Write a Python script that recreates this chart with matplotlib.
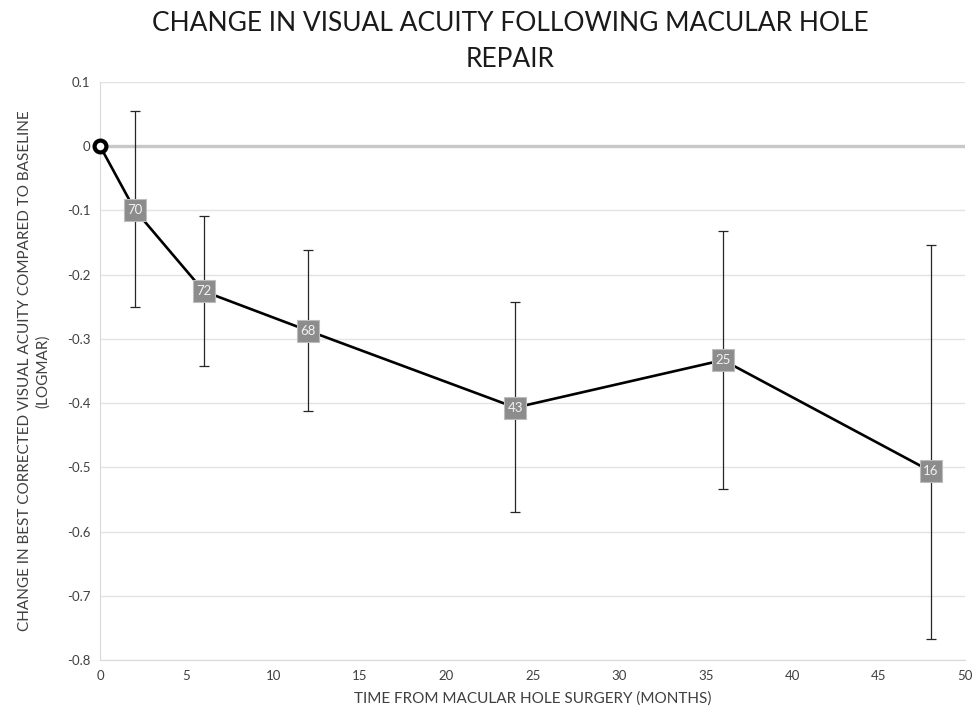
import matplotlib
matplotlib.use("Agg")
import matplotlib.pyplot as plt

# --- Data ---
months = [2, 6, 12, 24, 36, 48]
mean_change = [-0.099, -0.226, -0.287, -0.407, -0.333, -0.506]
err_upper = [0.055, -0.108, -0.161, -0.243, -0.132, -0.154]
err_lower = [-0.250, -0.342, -0.412, -0.569, -0.533, -0.767]
n_eyes = [70, 72, 68, 43, 25, 16]
baseline_x = [0]
baseline_y = [0]

y_ticks = [0.1, 0, -0.1, -0.2, -0.3, -0.4, -0.5, -0.6, -0.7, -0.8]
x_ticks = [0, 5, 10, 15, 20, 25, 30, 35, 40, 45, 50]

plt.rcParams['font.family'] = ['Lato', 'DejaVu Sans']

fig = plt.figure(figsize=(9.72, 7.11), dpi=100)
ax = fig.add_axes([0.103, 0.0717, 0.890, 0.813])

# grid + zero line
for t in y_ticks:
    if t == 0:
        ax.axhline(t, color='#c8c8c8', lw=2.4, zorder=1)
    else:
        ax.axhline(t, color='#e3e3e3', lw=1.0, zorder=0)

# error bars
lo = [m - l for m, l in zip(mean_change, err_lower)]
hi = [u - m for m, u in zip(mean_change, err_upper)]
ax.errorbar(months, mean_change, yerr=[lo, hi], fmt='none', ecolor='#262626',
            elinewidth=0.9, capsize=3.5, capthick=0.9, zorder=2)

# connecting line from baseline
ax.plot(baseline_x + months, baseline_y + mean_change, color='black', lw=1.9, zorder=3)

# baseline marker
ax.plot(baseline_x, baseline_y, 'o', ms=8.5, mfc='white', mec='black', mew=3,
        zorder=5, clip_on=False)

# labelled square markers
ax.plot(months, mean_change, 's', ms=16.5, mfc='#8c8c8c', mec='#bdbdbd', mew=0.8, zorder=4)
for x, y, n in zip(months, mean_change, n_eyes):
    ax.text(x, y, str(n), ha='center', va='center', color='#f2f2f2', fontsize=9.5, zorder=6)

ax.set_xlim(0, 50)
ax.set_ylim(-0.8, 0.1)
ax.set_xticks(x_ticks)
ax.set_yticks(y_ticks)
ax.set_yticklabels([f"{t:g}" for t in y_ticks])
ax.tick_params(length=0, labelsize=9.5, colors='#404040', pad=7)

for s in ['top', 'right']:
    ax.spines[s].set_visible(False)
ax.spines['left'].set_color('#d9d9d9')
ax.spines['bottom'].set_color('#d9d9d9')

ax.set_xlabel('TIME FROM MACULAR HOLE SURGERY (MONTHS)', fontsize=11, color='#404040', labelpad=7)
ax.set_ylabel('CHANGE IN BEST CORRECTED VISUAL ACUITY COMPARED TO BASELINE\n(LOGMAR)',
              fontsize=11, color='#404040', labelpad=12, linespacing=1.3)

fig.text(0.525, 0.985, 'CHANGE IN VISUAL ACUITY FOLLOWING MACULAR HOLE\nREPAIR',
         ha='center', va='top', fontsize=19, color='#1a1a1a', linespacing=1.55)

fig.savefig('out.png', dpi=100)
